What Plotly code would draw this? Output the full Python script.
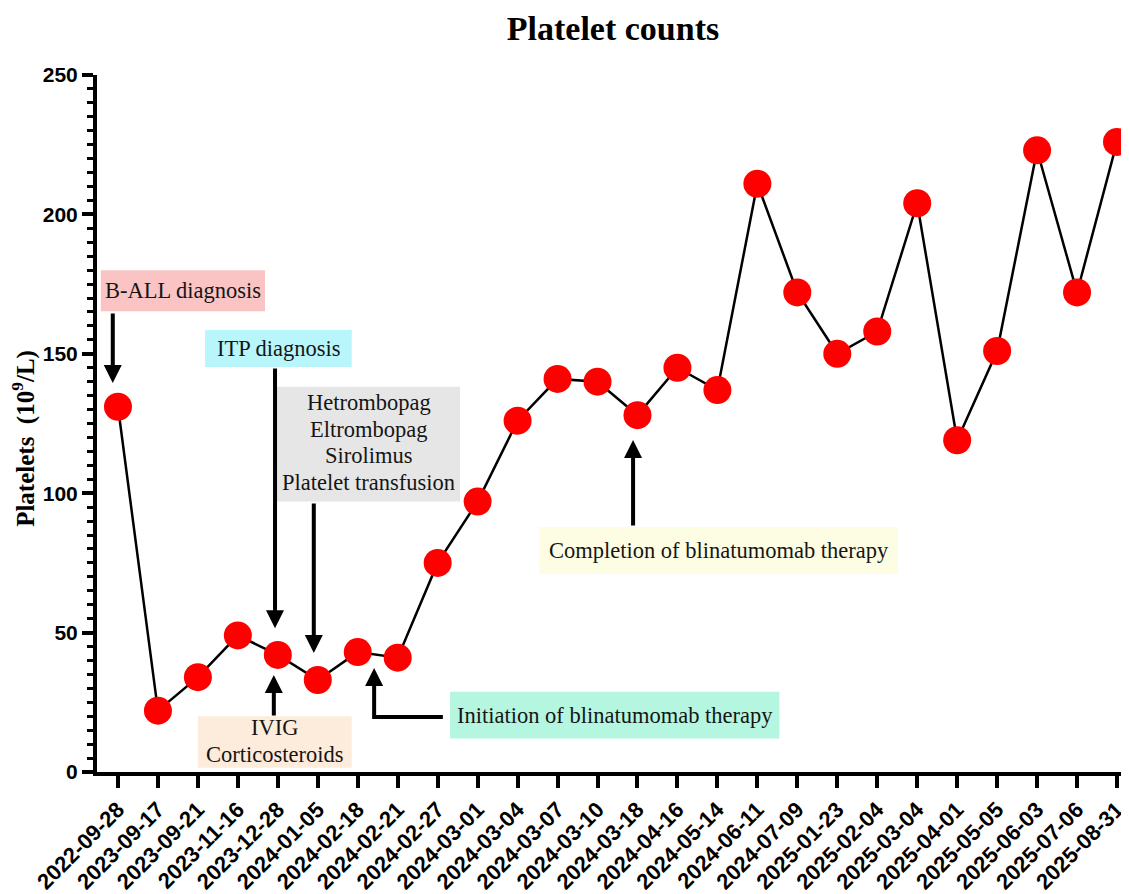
import plotly.graph_objects as go

dates = ["2022-09-28", "2023-09-17", "2023-09-21", "2023-11-16", "2023-12-28",
         "2024-01-05", "2024-02-18", "2024-02-21", "2024-02-27", "2024-03-01",
         "2024-03-04", "2024-03-07", "2024-03-10", "2024-03-18", "2024-04-16",
         "2024-05-14", "2024-06-11", "2024-07-09", "2025-01-23", "2025-02-04",
         "2025-03-04", "2025-04-01", "2025-05-05", "2025-06-03", "2025-07-06",
         "2025-08-31"]
platelets = [131, 22, 34, 49, 42, 33, 43, 41, 75, 97, 126, 141, 140, 128, 145,
             137, 211, 172, 150, 158, 204, 119, 151, 223, 172, 226]

y_ticks = [0, 50, 100, 150, 200, 250]

# label boxes: (x0, x1) in category index units, (y0, y1) in platelet units, colour
boxes = [
    (-0.43, 3.68, 165.3, 180.0, "#fac4c4"),   # B-ALL
    (2.18, 5.85, 145.3, 158.5, "#b8f6fb"),    # ITP
    (3.98, 8.56, 97.0, 138.2, "#e6e6e6"),     # drugs
    (2.0, 5.85, 1.5, 20.0, "#fdebdb"),        # IVIG
    (8.31, 16.55, 12.0, 28.8, "#b4f6e0"),     # initiation
    (10.54, 19.52, 71.0, 87.9, "#fdfde3"),    # completion
]

# texts: text, x (index), y (value)
texts = [
    ("B-ALL diagnosis", 1.63, 172.6),
    ("ITP diagnosis", 4.02, 152.0),
    ("Hetrombopag", 6.27, 132.4),
    ("Eltrombopag", 6.27, 122.7),
    ("Sirolimus", 6.27, 113.7),
    ("Platelet transfusion", 6.27, 104.0),
    ("IVIG", 3.92, 15.8),
    ("Corticosteroids", 3.92, 6.1),
    ("Initiation of blinatumomab therapy", 12.43, 20.3),
    ("Completion of blinatumomab therapy", 15.03, 79.6),
]

# arrows: tip x, tip y, tail x, tail y
arrows = [
    (-0.13, 139.5, -0.13, 165.0),
    (3.93, 51.6, 3.93, 145.3),
    (4.9, 42.7, 4.9, 96.8),
    (3.9, 34.8, 3.9, 19.7),
    (6.41, 37.3, 6.41, 19.7),
    (12.89, 119.1, 12.89, 87.9),
]

fig = go.Figure()
fig.add_trace(go.Scatter(
    x=list(range(len(dates))), y=platelets, mode="lines+markers",
    line=dict(color="black", width=2.5),
    marker=dict(color="#ff0000", size=28, line=dict(width=0)),
    cliponaxis=False, showlegend=False,
))

shapes = []
for x0, x1, y0, y1, col in boxes:
    shapes.append(dict(type="rect", xref="x", yref="y", x0=x0, x1=x1, y0=y0, y1=y1,
                       fillcolor=col, line=dict(width=0), layer="above"))
shapes.append(dict(type="line", xref="x", yref="y", x0=8.13, x1=6.36, y0=19.7, y1=19.7,
                   line=dict(color="black", width=4)))

annotations = []
for text, cx, cy in texts:
    annotations.append(dict(
        x=cx, y=cy, xref="x", yref="y", text=text, showarrow=False,
        xanchor="center", yanchor="middle",
        font=dict(family="Liberation Serif", size=22.5, color="#151515"),
    ))
for tx, ty, ax, ay in arrows:
    annotations.append(dict(
        x=tx, y=ty, xref="x", yref="y", ax=ax, ay=ay, axref="x", ayref="y",
        text="", showarrow=True, arrowhead=2, arrowsize=0.9, arrowwidth=4,
        arrowcolor="black", standoff=0, startstandoff=0,
    ))
annotations.append(dict(
    x=-0.0707, y=119.5, xref="paper", yref="y", textangle=-90, showarrow=False,
    text="Platelets&nbsp;&nbsp;(10<sup>9</sup>/L)", xanchor="center", yanchor="middle",
    font=dict(family="Liberation Serif", size=25, color="black", weight="bold"),
))

fig.update_layout(
    width=1121, height=886,
    margin=dict(l=89, r=0, t=67, b=122, autoexpand=False),
    paper_bgcolor="white", plot_bgcolor="white",
    title=dict(text="Platelet counts", x=0.5, xref="paper", y=1 - 20 / 886,
               yanchor="middle",
               font=dict(family="Liberation Serif", size=34, color="black", weight="bold")),
    annotations=annotations,
    shapes=shapes,
)
fig.update_xaxes(
    tickmode="array", tickvals=list(range(len(dates))), ticktext=dates,
    range=[-0.525, 25.3], tickangle=-45,
    showline=True, linecolor="black", linewidth=4, showgrid=False, zeroline=False,
    ticks="outside", ticklen=12, tickwidth=4, tickcolor="black",
    tickfont=dict(family="Liberation Sans", size=22, color="black", weight="bold"),
)
fig.update_yaxes(
    range=[0, 250], tickmode="array", tickvals=y_ticks,
    showline=True, linecolor="black", linewidth=4, showgrid=False, zeroline=False,
    ticks="outside", ticklen=11, tickwidth=4, tickcolor="black",
    minor=dict(dtick=5, ticks="outside", ticklen=6, tickwidth=3, tickcolor="black", showgrid=False),
    tickfont=dict(family="Liberation Sans", size=21, color="black", weight="bold"),
)
fig.write_html("out.html")
